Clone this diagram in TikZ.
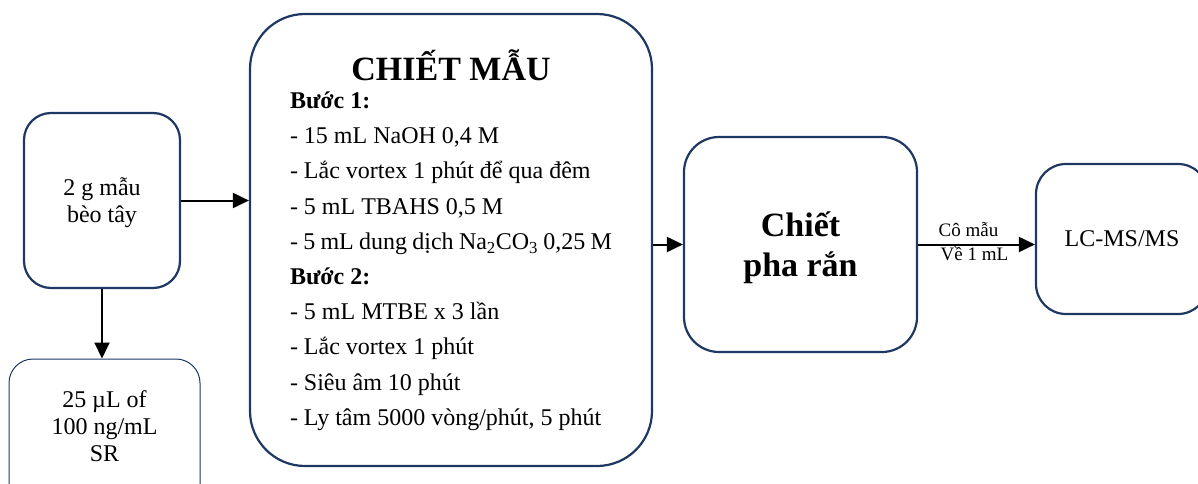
\documentclass[tikz,border=0pt]{standalone}
\usepackage{fontspec}
\setmainfont{Liberation Serif}
\usetikzlibrary{arrows.meta}
\definecolor{navy}{HTML}{1F3763}
\tikzset{
  box/.style={draw=navy, line width=2.2pt, rounded corners=#1, align=center, inner sep=0pt},
  box/.default=27pt,
  thinbox/.style={draw=navy, line width=1pt, rounded corners=24pt, align=center, inner sep=0pt},
  arr/.style={line width=2pt, -{Triangle[length=16pt,width=15pt]}},
  txt/.style={font=\fontsize{24}{27}\selectfont},
  small/.style={font=\fontsize{19}{21}\selectfont, inner sep=1pt},
}
\begin{document}
\begin{tikzpicture}[x=1pt,y=-1pt]
\useasboundingbox (0,0) rectangle (1198,484);
\node[box, txt, minimum width=156pt, minimum height=175pt, text depth=0pt] (A) at (102,200.5) {2 g mẫu\\bèo tây};
\node[thinbox, minimum width=191pt, minimum height=150pt,
  label={[txt, align=center, yshift=8pt, name=Blbl]center:25 µL of\\100 ng/mL\\SR}] (B) at (104.5,434) {};
\node[box=55pt, minimum width=402pt, minimum height=452pt, text width=322pt, align=left] (M) at (451,240) {%
  \spaceskip=0pt\xspaceskip=0pt
  {\centering\fontsize{34}{38}\selectfont\bfseries CHIẾT MẪU\par}%
  \vspace{-7pt}%
  \fontsize{24}{35.2}\selectfont
  \textbf{Bước 1:}\\
  - 15 mL NaOH 0,4 M\\
  - Lắc vortex 1 phút để qua đêm\\
  - 5 mL TBAHS 0,5 M\\
  - 5 mL dung dịch Na\textsubscript{2}CO\textsubscript{3} 0,25 M\\
  \textbf{Bước 2:}\\
  - 5 mL MTBE x 3 lần\\
  - Lắc vortex 1 phút\\
  - Siêu âm 10 phút\\
  - Ly tâm 5000 vòng/phút, 5 phút\par\vspace{18pt}};
\node[box=35pt, minimum width=233pt, minimum height=215pt, text depth=0pt,
  font=\fontsize{34}{34}\selectfont\bfseries] (S) at (800.5,244.5) {Chiết\\[6pt]pha rắn};
\node[box=30pt, txt, minimum width=172pt, minimum height=150pt] (L) at (1122,239) {LC-MS/MS};
\draw[arr] (A.east) -- (A.east -| M.west);
\draw[arr] (A.south) -- (A.south |- B.north);
\draw[arr] (S.west -| M.east) -- (S.west);
\draw[arr] (S.east) -- (S.east -| L.west)
  node[midway, above, small, xshift=-8pt, yshift=6pt] (c1) {Cô mẫu}
  node[midway, below, small, xshift=-2pt] (c2) {Về 1 mL};
\end{tikzpicture}
\end{document}
